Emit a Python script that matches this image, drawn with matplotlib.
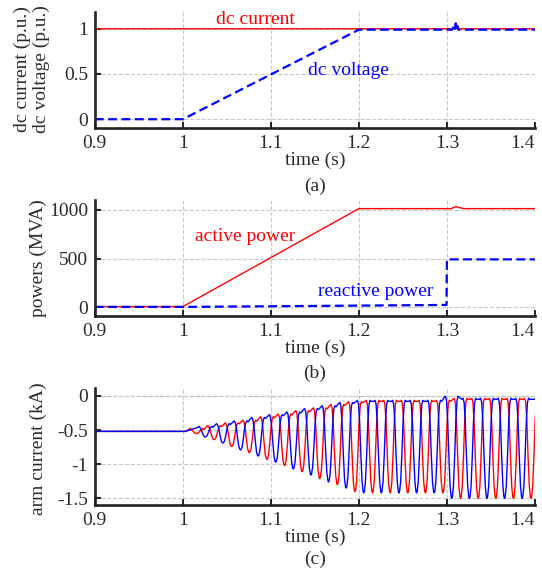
import numpy as np
import matplotlib
matplotlib.use('Agg')
import matplotlib.pyplot as plt

plt.rcParams['font.family'] = ['Liberation Serif', 'DejaVu Serif']
plt.rcParams['font.size'] = 14
plt.rcParams['axes.unicode_minus'] = False

## (a) dc current / dc voltage
t_a = [0.9, 1.0, 1.2, 1.306, 1.308, 1.309, 1.310, 1.311, 1.312, 1.313, 1.4]
dc_current = [1.0, 1.0, 1.0, 1.0, 1.0, 1.01, 1.0, 1.01, 1.0, 1.0, 1.0]
dc_voltage = [0.0, 0.0, 0.99, 0.99, 1.03, 0.99, 1.06, 0.99, 1.03, 0.99, 0.99]

## (b) active / reactive power
t_p = [0.9, 1.0, 1.2, 1.305, 1.31, 1.315, 1.32, 1.4]
active_power = [8, 8, 1012, 1012, 1032, 1020, 1012, 1012]
t_q = [0.9, 1.0, 1.2995, 1.3, 1.4]
reactive_power = [5, 5, 25, 492, 492]

## (c) arm currents: dip times, dip bottoms and top level for each cycle
red_dip_t = [1.0155, 1.0355, 1.0555, 1.0755, 1.0955, 1.1155, 1.1355, 1.1555, 1.1755, 1.1955,
             1.2155, 1.2355, 1.2555, 1.2755, 1.2955, 1.3155, 1.3355, 1.3555, 1.3755, 1.3955]
red_dip_low = [-0.55, -0.64, -0.74, -0.83, -0.93, -1.02, -1.11, -1.21, -1.30, -1.40,
               -1.42, -1.42, -1.42, -1.42, -1.42, -1.50, -1.50, -1.50, -1.50, -1.50]
red_dip_top = [-0.49, -0.45, -0.41, -0.37, -0.32, -0.28, -0.23, -0.19, -0.14, -0.10,
               -0.08, -0.08, -0.08, -0.08, -0.08, -0.05, -0.05, -0.05, -0.05, -0.05]
blue_dip_t = [1.0255, 1.0455, 1.0655, 1.0855, 1.1055, 1.1255, 1.1455, 1.1655, 1.1855, 1.2055,
              1.2255, 1.2455, 1.2655, 1.2855, 1.3055, 1.3255, 1.3455, 1.3655, 1.3855]
blue_dip_low = [-0.60, -0.69, -0.79, -0.88, -0.97, -1.07, -1.16, -1.26, -1.35, -1.42,
                -1.42, -1.42, -1.42, -1.42, -1.50, -1.50, -1.50, -1.50, -1.50]
blue_dip_top = [-0.46, -0.42, -0.38, -0.33, -0.29, -0.25, -0.20, -0.16, -0.11, -0.08,
                -0.08, -0.08, -0.08, -0.08, -0.02, -0.05, -0.05, -0.05, -0.05]
arm_start = -0.52

# shape of one dip (offset in s, fraction of depth)
dip_dt = [-0.0085, -0.0072, -0.006, -0.0047, -0.0033, -0.0019, -0.0007, 0.0,
          0.0007, 0.0019, 0.0033, 0.0047, 0.006, 0.0072, 0.0085]
dip_frac = [0.0, 0.0, 0.03, 0.22, 0.58, 0.88, 0.985, 1.0,
            0.985, 0.88, 0.58, 0.22, 0.03, 0.0, 0.0]
# small ripple on the flat top (in kA)
top_ripple = [0.0, 0.015, 0.0, 0.0, 0.0, 0.0, 0.0, 0.0,
              0.0, 0.0, 0.0, 0.0, 0.0, 0.015, 0.0]


def arm_wave(dip_t, dip_low, dip_top, t_end):
    t = [0.9, 1.003]
    y = [arm_start, arm_start]
    for tc, lo, hi in zip(dip_t, dip_low, dip_top):
        for dt, fr, rp in zip(dip_dt, dip_frac, top_ripple):
            t.append(tc + dt)
            y.append(hi + fr * (lo - hi) + rp)
    t.append(t_end)
    y.append(y[-1])
    return t, y


red = 'red'
blue = 'blue'
txt = '#2b2b2b'
grid_kw = dict(color='#c8c8c8', linestyle='--', linewidth=0.8)
xticks = [0.9, 1.0, 1.1, 1.2, 1.3, 1.4]
xticklabels = ['0.9', '1', '1.1', '1.2', '1.3', '1.4']

fig = plt.figure(figsize=(5.42, 5.68), dpi=100)
ax_a = fig.add_axes([0.175, 0.775, 0.812, 0.2046])
ax_b = fig.add_axes([0.175, 0.4437, 0.812, 0.205])
ax_c = fig.add_axes([0.175, 0.1106, 0.812, 0.2065])

for ax in [ax_a, ax_b, ax_c]:
    ax.set_axisbelow(True)
    ax.grid(True, **grid_kw)
    ax.spines['top'].set_visible(False)
    ax.spines['right'].set_visible(False)
    ax.spines['left'].set_linewidth(1.9)
    ax.spines['bottom'].set_linewidth(1.9)
    ax.spines['left'].set_color('#222222')
    ax.spines['bottom'].set_color('#222222')
    ax.tick_params(direction='in', length=4, width=1.4, pad=5, colors='#222222', labelcolor=txt)
    ax.set_xlim(0.9, 1.4)
    ax.set_xticks(xticks)
    ax.set_xticklabels(xticklabels)
    ax.get_xticklabels()[-1].set_horizontalalignment('right')
    ax.set_xlabel('time (s)', labelpad=0, color=txt)

# (a)
ax_a.plot(t_a, dc_current, color=red, linewidth=1.0)
ax_a.plot(t_a, dc_voltage, color=blue, linewidth=1.6, dashes=(4, 2))
ax_a.set_ylim(-0.095, 1.19)
ax_a.set_yticks([0, 0.5, 1])
ax_a.set_yticklabels(['0', '0.5', '1'])
ax_a.text(1.082, 1.106, 'dc current', color=red, ha='center', va='center')
ax_a.text(1.188, 0.534, 'dc voltage', color=blue, ha='center', va='center')

# (b)
ax_b.plot(t_p, active_power, color=red, linewidth=1.0)
ax_b.plot(t_q, reactive_power, color=blue, linewidth=1.6, dashes=(4, 2))
ax_b.set_ylim(-88, 1105)
ax_b.set_yticks([0, 500, 1000])
ax_b.text(1.071, 724, 'active power', color=red, ha='center', va='center')
ax_b.text(1.219, 159, 'reactive power', color=blue, ha='center', va='center')

# (c)
t_r, y_r = arm_wave(red_dip_t, red_dip_low, red_dip_top, 1.4)
t_bl, y_bl = arm_wave(blue_dip_t, blue_dip_low, blue_dip_top, 1.4)
ax_c.axhline(0, color='#666666', linestyle='--', linewidth=0.8, zorder=0.5)
ax_c.plot(t_r, y_r, color=red, linewidth=1.0)
ax_c.plot(t_bl, y_bl, color=blue, linewidth=1.0)
ax_c.set_ylim(-1.6, 0.117)
ax_c.set_yticks([-1.5, -1, -0.5, 0])
ax_c.set_yticklabels(['-1.5', '-1', '-0.5', '0'])

# y labels and panel captions
fig.text(32 / 542, 1 - 69.5 / 568, 'dc current (p.u.)\ndc voltage (p.u.)', rotation=90,
         ha='center', va='center', linespacing=1.1, color=txt)
fig.text(38 / 542, 1 - 258 / 568, 'powers (MVA)', rotation=90, ha='center', va='center', color=txt)
fig.text(38 / 542, 1 - 449 / 568, 'arm current (kA)', rotation=90, ha='center', va='center', color=txt)

fig.text(0.581, 1 - 186 / 568, '(a)', ha='center', va='center', color=txt)
fig.text(0.581, 1 - 373 / 568, '(b)', ha='center', va='center', color=txt)
fig.text(0.581, 1 - 559 / 568, '(c)', ha='center', va='center', color=txt)

plt.savefig('out.png', dpi=100)
